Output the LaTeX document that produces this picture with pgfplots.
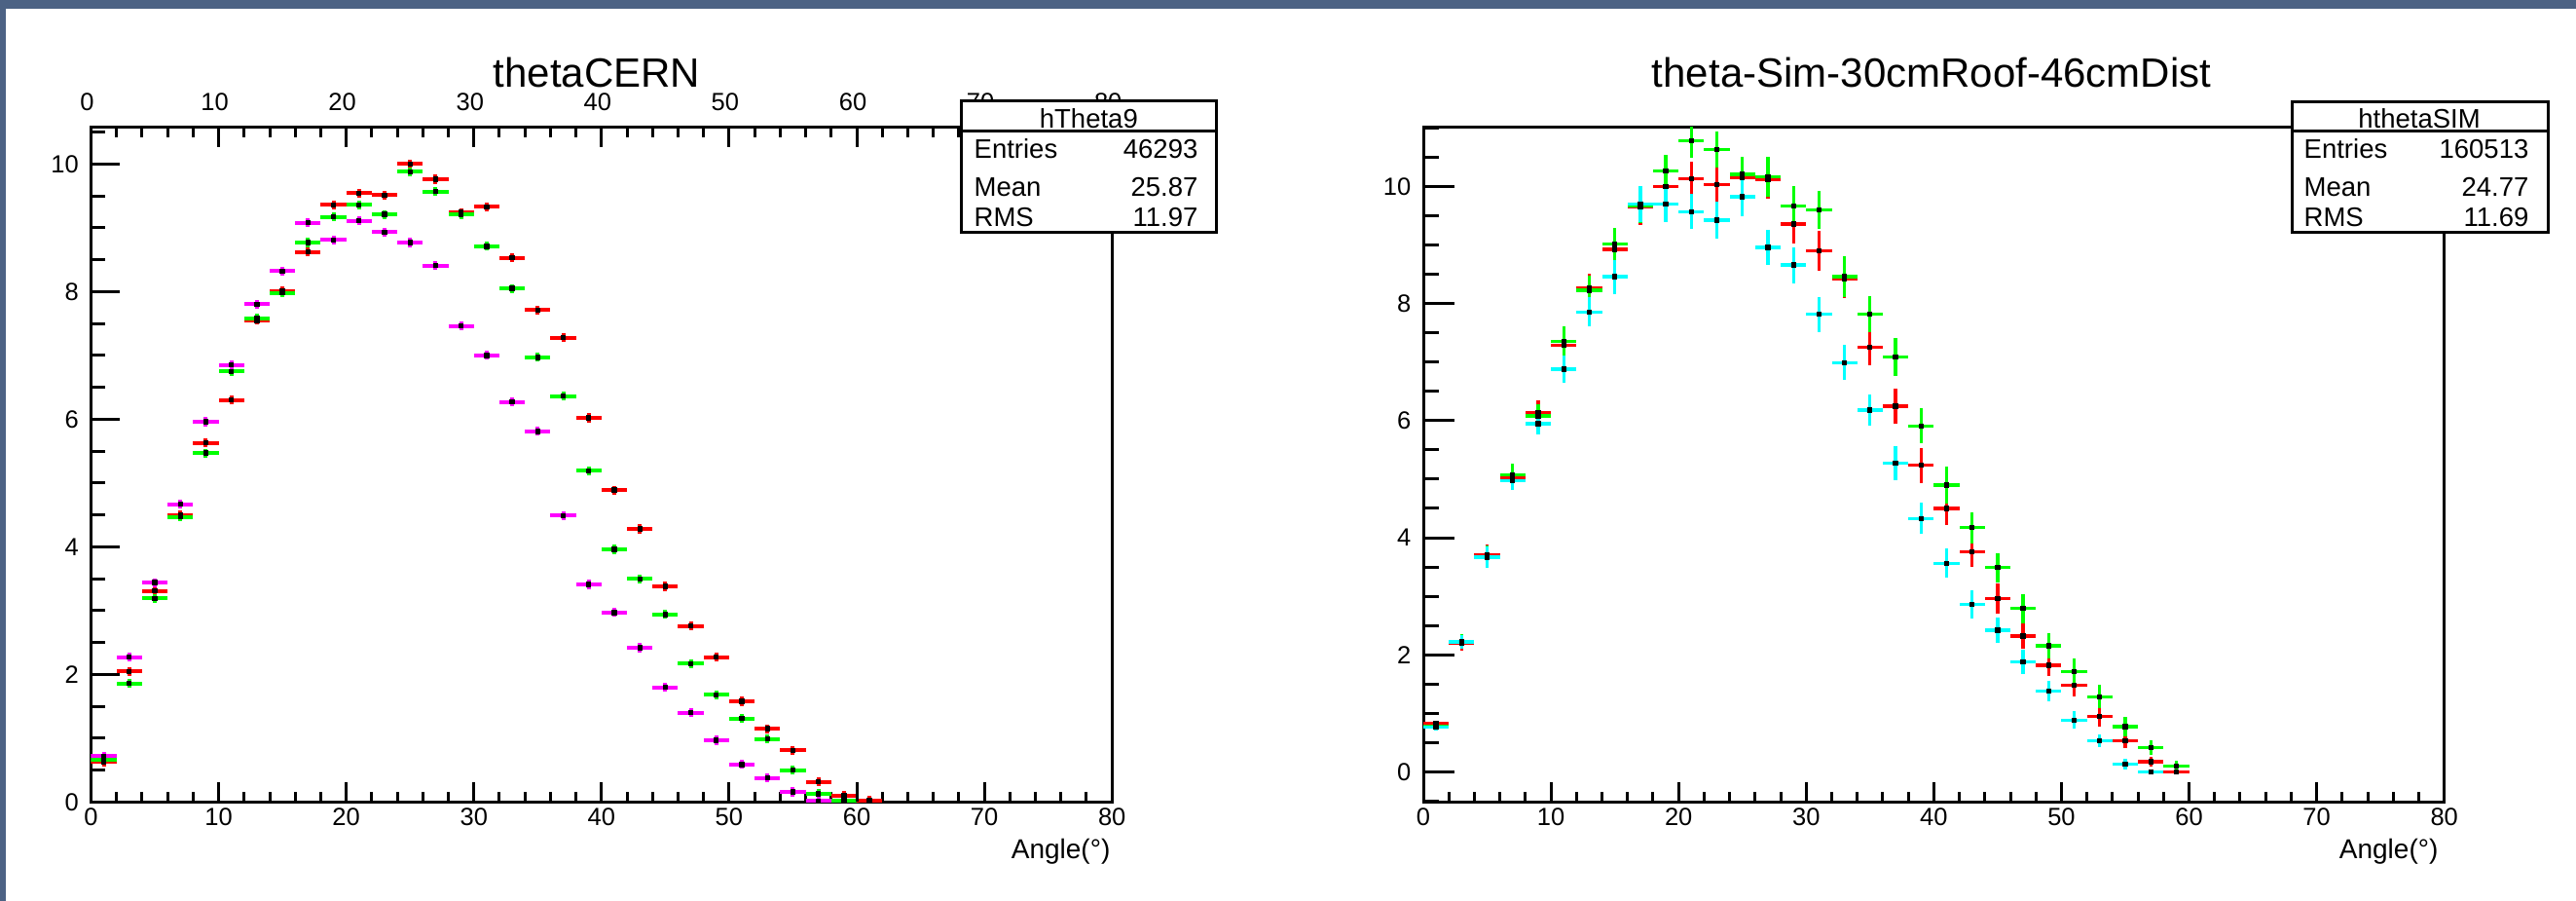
\documentclass[border=0pt]{standalone}
\usepackage{fontspec}
\setmainfont{Liberation Sans}
\usepackage{pgfplots}
\pgfplotsset{compat=1.18}
\usepackage{pgfplotstable}

\definecolor{bgblue}{RGB}{76,98,132}
\definecolor{rootred}{RGB}{255,0,0}
\definecolor{rootgreen}{RGB}{0,255,0}
\definecolor{rootmag}{RGB}{255,0,255}
\definecolor{rootcyan}{RGB}{0,255,255}

\pgfplotstableread{
x r g m
1 0.63 0.67 0.72
3 2.05 1.86 2.27
5 3.31 3.19 3.44
7 4.50 4.47 4.67
9 5.63 5.47 5.96
11 6.30 6.75 6.85
13 7.55 7.58 7.80
15 8.01 7.98 8.32
17 8.62 8.77 9.08
19 9.36 9.17 8.81
21 9.54 9.36 9.11
23 9.51 9.21 8.93
25 10.00 9.88 8.77
27 9.76 9.57 8.41
29 9.24 9.21 7.46
31 9.33 8.71 7.00
33 8.53 8.05 6.27
35 7.71 6.97 5.81
37 7.28 6.36 4.49
39 6.02 5.19 3.41
41 4.89 3.96 2.97
43 4.28 3.50 2.42
45 3.38 2.94 1.80
47 2.76 2.17 1.40
49 2.27 1.68 0.97
51 1.58 1.31 0.59
53 1.15 0.99 0.38
55 0.81 0.50 0.16
57 0.32 0.13 0.02
59 0.10 0.03 nan
61 0.03 nan nan
}\leftdata

\pgfplotstableread{
x r er g eg c ec
1 0.82 0.05 0.78 0.05 0.76 0.05
3 2.20 0.13 2.23 0.12 2.22 0.12
5 3.71 0.18 3.68 0.19 3.67 0.18
7 5.03 0.17 5.07 0.19 4.97 0.15
9 6.14 0.20 6.08 0.20 5.95 0.18
11 7.29 0.24 7.35 0.26 6.88 0.24
13 8.27 0.25 8.23 0.25 7.86 0.25
15 8.93 0.27 9.02 0.28 8.46 0.29
17 9.65 0.30 9.68 0.30 9.70 0.31
19 10.00 0.28 10.27 0.28 9.70 0.30
21 10.14 0.28 10.78 0.29 9.57 0.30
23 10.04 0.29 10.64 0.31 9.43 0.32
25 10.15 0.30 10.21 0.30 9.83 0.33
27 10.12 0.33 10.17 0.34 8.96 0.30
29 9.36 0.33 9.67 0.34 8.66 0.31
31 8.90 0.34 9.60 0.33 7.82 0.30
33 8.42 0.33 8.46 0.35 6.99 0.30
35 7.25 0.31 7.82 0.31 6.18 0.27
37 6.25 0.30 7.09 0.32 5.27 0.29
39 5.24 0.30 5.91 0.30 4.33 0.27
41 4.50 0.28 4.90 0.32 3.56 0.25
43 3.76 0.26 4.17 0.27 2.86 0.24
45 2.96 0.26 3.49 0.25 2.42 0.21
47 2.32 0.22 2.79 0.25 1.88 0.21
49 1.82 0.19 2.15 0.22 1.38 0.18
51 1.48 0.20 1.71 0.23 0.88 0.15
53 0.94 0.17 1.28 0.20 0.53 0.11
55 0.53 0.13 0.77 0.17 0.13 0.09
57 0.17 0.08 0.41 0.13 0.00 0.00
59 0.00 0.00 0.10 0.08 nan nan
}\rightdata

\pgfplotsset{
  rootaxis/.style={
    scale only axis, anchor=south west,
    width=314.6pt, height=207.75pt,
    xmin=0, xmax=80,
    axis line style={line width=0.9pt},
    tick align=inside,
    every tick/.style={black, line width=0.9pt},
    xtick={0,10,...,80},
    minor xtick={0,2,...,80},
    ticklabel style={font=\fontsize{7.65}{9}\selectfont},
    /pgf/number format/assume math mode=true,
    xticklabel style={anchor=north, inner sep=0pt, yshift=-1.8pt},
    yticklabel style={anchor=east, inner sep=0pt, xshift=-3.6pt},
    major tick length=6pt, minor tick length=3pt,
    ytick pos=left,
  },
  % narrow strip axes whose grid lines give the long tick marks
  strip/.style={
    scale only axis,
    axis line style={draw=none},
    tick align=inside,
    major tick length=0pt, minor tick length=0pt,
    every tick/.style={black, line width=0.9pt},
    xticklabels={}, yticklabels={},
    major grid style={black, line width=0.9pt},
  },
  ystrip/.style={strip, anchor=south west, width=#1, height=207.75pt,
    xmin=0, xmax=1, xtick=\empty, ymajorgrids},
  xstrip/.style={strip, width=314.6pt, height=#1,
    xmin=0, xmax=80, ymin=0, ymax=1, ytick=\empty,
    xtick={10,20,...,70}, xmajorgrids},
  hist/.style={only marks, mark=square*, mark size=0.6pt,
    mark options={draw=black, fill=black},
    error bars/x dir=both, error bars/x fixed=1,
    error bars/y dir=both, error bars/error mark=none},
}

\begin{document}
\begin{tikzpicture}
\fill[bgblue] (0,0) rectangle (793.8pt,277.5pt);
\fill[white] (1.8pt,0) rectangle (793.8pt,274.8pt);

% ---------- left panel ----------
\begin{axis}[rootaxis, at={(28.05pt,30.45pt)},
  ymin=0, ymax=10.57,
  ytick={0,2,...,10}, minor ytick={0,0.5,...,10.5},
  xtick pos=both]
\addplot[hist, error bars/y fixed=0.07,
  error bars/error bar style={rootred, line width=1.2pt}]
  table[x=x, y=r] {\leftdata};
\addplot[hist, error bars/y fixed=0.07,
  error bars/error bar style={rootgreen, line width=1.2pt}]
  table[x=x, y=g] {\leftdata};
\addplot[hist, error bars/y fixed=0.07,
  error bars/error bar style={rootmag, line width=1.2pt}]
  table[x=x, y=m] {\leftdata};
\end{axis}

% long y ticks (left panel): major 9pt, minor 4.5pt
\begin{axis}[ystrip=9pt, at={(28.05pt,30.45pt)},
  ymin=0, ymax=10.57, ytick={0,2,...,10}]
\addplot[draw=none] coordinates {(0.5,1)};
\end{axis}
\begin{axis}[ystrip=4.5pt, at={(28.05pt,30.45pt)},
  ymin=0, ymax=10.57, ytick={0,0.5,...,10.5}]
\addplot[draw=none] coordinates {(0.5,1)};
\end{axis}
% long x ticks at bottom and top (left panel)
\begin{axis}[xstrip=6pt, anchor=south west, at={(28.05pt,30.45pt)}]
\addplot[draw=none] coordinates {(1,0.5)};
\end{axis}
\begin{axis}[xstrip=6pt, anchor=north west, at={(28.05pt,238.2pt)}]
\addplot[draw=none] coordinates {(1,0.5)};
\end{axis}

% top tick labels of the left panel
\begin{axis}[scale only axis, anchor=south west, at={(28.05pt,30.45pt)},
  width=314.6pt, height=207.75pt,
  xmin=0, xmax=80, ymin=0, ymax=1,
  axis x line*=top, axis y line=none,
  axis line style={line width=0.9pt},
  xtick={0,10,...,80}, tick style={draw=none},
  ticklabel style={font=\fontsize{7.65}{9}\selectfont},
  /pgf/number format/assume math mode=true,
  xticklabel style={anchor=south, inner sep=0pt, yshift=5.1pt, xshift=-1.2pt}]
\addplot[draw=none] coordinates {(0,0)};
\end{axis}

% ---------- right panel ----------
\begin{axis}[rootaxis, at={(438.6pt,30.45pt)},
  ymin=-0.52, ymax=11.01,
  ytick={0,2,...,10}, minor ytick={-0.5,0,...,11},
  xtick pos=left]
\addplot[hist, error bars/y explicit,
  error bars/error bar style={rootred, line width=1pt}]
  table[x=x, y=r, y error=er] {\rightdata};
\addplot[hist, error bars/y explicit,
  error bars/error bar style={rootgreen, line width=1pt}]
  table[x=x, y=g, y error=eg] {\rightdata};
\addplot[hist, error bars/y explicit,
  error bars/error bar style={rootcyan, line width=1pt}]
  table[x=x, y=c, y error=ec] {\rightdata};
\end{axis}

% long y ticks (right panel)
\begin{axis}[ystrip=9.5pt, at={(438.6pt,30.45pt)},
  ymin=-0.52, ymax=11.01, ytick={0,2,...,10}]
\addplot[draw=none] coordinates {(0.5,1)};
\end{axis}
\begin{axis}[ystrip=4.8pt, at={(438.6pt,30.45pt)},
  ymin=-0.52, ymax=11.01, ytick={-0.5,0,...,11}]
\addplot[draw=none] coordinates {(0.5,1)};
\end{axis}
% long x ticks at bottom (right panel)
\begin{axis}[xstrip=6pt, anchor=south west, at={(438.6pt,30.45pt)}]
\addplot[draw=none] coordinates {(1,0.5)};
\end{axis}

% titles
\node[anchor=base, inner sep=0pt, font=\fontsize{12.6}{15}\selectfont] at (183.9pt,250.5pt) {thetaCERN};
\node[anchor=base, inner sep=0pt, font=\fontsize{12.6}{15}\selectfont] at (595.2pt,250.5pt) {theta-Sim-30cmRoof-46cmDist};

% x labels
\node[anchor=base east, inner sep=0pt, font=\fontsize{8.4}{10}\selectfont] at (342.3pt,13pt) {Angle(°)};
\node[anchor=base east, inner sep=0pt, font=\fontsize{8.4}{10}\selectfont] at (751.5pt,13pt) {Angle(°)};

% stats boxes
\begin{scope}[font=\fontsize{8.25}{10}\selectfont]
\draw[line width=0.9pt, fill=white] (296.25pt,205.9pt) rectangle (374.8pt,246.4pt);
\draw[line width=0.9pt] (296.25pt,237.2pt) -- (374.8pt,237.2pt);
\node[anchor=base, inner sep=0pt] at (335.5pt,238.1pt) {hTheta9};
\node[anchor=base west, inner sep=0pt] at (300pt,228.6pt) {Entries};
\node[anchor=base east, inner sep=0pt] at (369.3pt,228.6pt) {46293};
\node[anchor=base west, inner sep=0pt] at (300pt,217.0pt) {Mean};
\node[anchor=base east, inner sep=0pt] at (369.3pt,217.0pt) {25.87};
\node[anchor=base west, inner sep=0pt] at (300pt,207.6pt) {RMS};
\node[anchor=base east, inner sep=0pt] at (369.3pt,207.6pt) {11.97};

\draw[line width=0.9pt, fill=white] (706.2pt,206.0pt) rectangle (785.1pt,246.2pt);
\draw[line width=0.9pt] (706.2pt,237.0pt) -- (785.1pt,237.0pt);
\node[anchor=base, inner sep=0pt] at (745.5pt,238.1pt) {hthetaSIM};
\node[anchor=base west, inner sep=0pt] at (709.8pt,228.6pt) {Entries};
\node[anchor=base east, inner sep=0pt] at (779.4pt,228.6pt) {160513};
\node[anchor=base west, inner sep=0pt] at (709.8pt,217.0pt) {Mean};
\node[anchor=base east, inner sep=0pt] at (779.4pt,217.0pt) {24.77};
\node[anchor=base west, inner sep=0pt] at (709.8pt,207.6pt) {RMS};
\node[anchor=base east, inner sep=0pt] at (779.4pt,207.6pt) {11.69};
\end{scope}
\end{tikzpicture}
\end{document}
